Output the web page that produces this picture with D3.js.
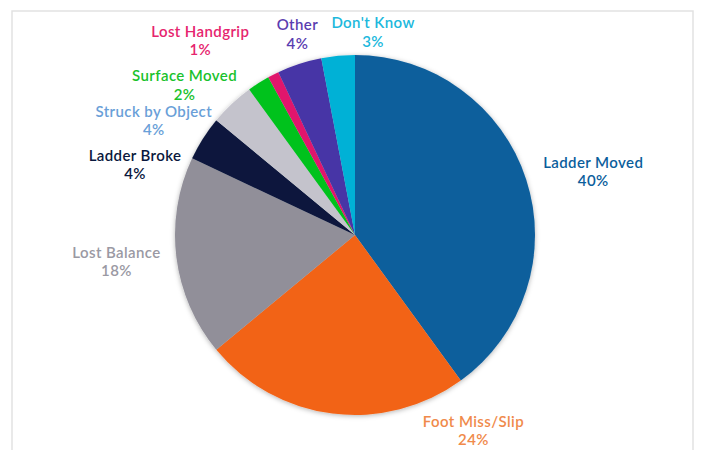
<!DOCTYPE html>
<html>
<head>
<meta charset="utf-8">
<script src="https://cdn.jsdelivr.net/npm/d3@7"></script>
<style>
  body { margin: 0; background: #fff; }
  svg { display: block; }
  .lbl { font-family: Lato, "Open Sans", sans-serif; font-size: 15px; font-weight: 600; letter-spacing: 0.4px; text-anchor: middle; }
</style>
</head>
<body>
<div id="chart"></div>
<script>
// Chart data
var causes = ["Ladder Moved", "Foot Miss/Slip", "Lost Balance", "Ladder Broke", "Struck by Object",
    "Surface Moved", "Lost Handgrip", "Other", "Don't Know"];
var shares = [40, 24, 18, 4, 4, 2, 1, 4, 3];

// Slice colours and label colours
var sliceColors = ["#0b5e9c", "#f26419", "#918f99", "#0a183d", "#c4c3cc", "#00c21f", "#e0186c", "#4634a6", "#00b1d6"];
var labelColors = ["#0b5e9c", "#f08a4b", "#9a99a3", "#0a183d", "#6a9fd8", "#19c22c", "#e6246e", "#5a3db0", "#20b8dc"];

// Label nudges from the slice's outer edge (like the original "best fit" placement)
var labelNudge = [[67, -8], [141, 17], [-60, 4], [-68, 26], [-78, 17], [-74, 2], [-73, -34], [-2, -30], [35, -24]];

var svgWidth = 701;
var svgHeight = 450;
var cx = 355, cy = 235, radius = 180;

var svg = d3.select("#chart")
    .append("svg")
    .attr("width", svgWidth)
    .attr("height", svgHeight);

// Faint frame round the chart
svg.append("rect")
    .attr("x", 12)
    .attr("y", 11)
    .attr("width", 681)
    .attr("height", 460)
    .attr("fill", "none")
    .attr("stroke", "#e2e2e2")
    .attr("stroke-width", 1.5);

// soft shadow under the pie
var defs = svg.append("defs");
var shadow = defs.append("filter")
    .attr("id", "shadow")
    .attr("x", "-10%").attr("y", "-10%")
    .attr("width", "120%").attr("height", "120%");
shadow.append("feDropShadow")
    .attr("dx", 0)
    .attr("dy", 1)
    .attr("stdDeviation", 2.5)
    .attr("flood-color", "#000")
    .attr("flood-opacity", 0.3);

var data = causes.map(function (c, i) {
    return { cause: c, share: shares[i], i: i };
});

var pie = d3.pie()
    .sort(null)
    .value(function (d) { return d.share; });

var arc = d3.arc().innerRadius(0).outerRadius(radius);

var pieGroup = svg.append("g")
    .attr("transform", `translate(${cx}, ${cy})`);

var arcs = pie(data);

pieGroup.append("g")
    .attr("filter", "url(#shadow)")
    .selectAll("path")
    .data(arcs)
    .enter()
    .append("path")
    .attr("d", arc)
    .attr("fill", function (d) { return sliceColors[d.data.i]; });

// Labels: start from the outer edge at mid-angle, then nudge
var labels = pieGroup.selectAll("text.lbl")
    .data(arcs)
    .enter()
    .append("text")
    .attr("class", "lbl")
    .attr("fill", function (d) { return labelColors[d.data.i]; })
    .attr("transform", function (d) {
        var a = (d.startAngle + d.endAngle) / 2;
        var x = Math.sin(a) * radius + labelNudge[d.data.i][0];
        var y = -Math.cos(a) * radius + labelNudge[d.data.i][1];
        return `translate(${x}, ${y})`;
    });

labels.append("tspan")
    .attr("x", 0)
    .attr("y", -3.8)
    .text(function (d) { return d.data.cause; });

labels.append("tspan")
    .attr("x", 0)
    .attr("y", 14.7)
    .text(function (d) { return d.data.share + "%"; });
</script>
</body>
</html>
